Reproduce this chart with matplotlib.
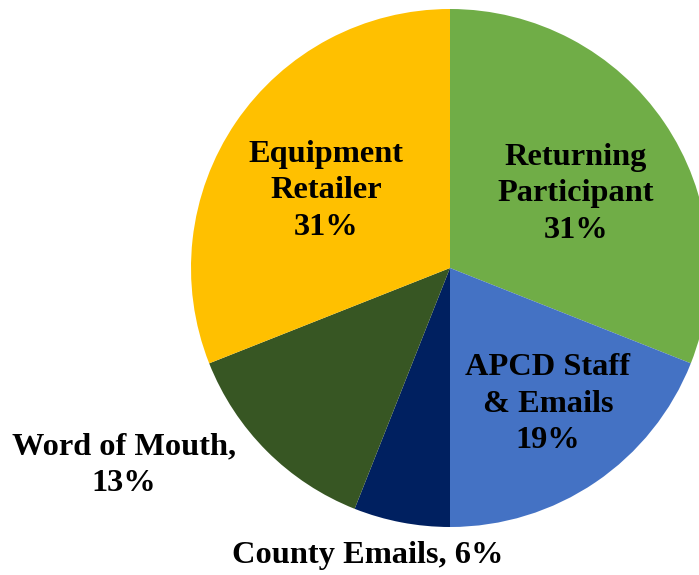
import matplotlib.pyplot as plt
import numpy as np

# Datos del gráfico
labels = ["Returning\nParticipant", "APCD Staff\n& Emails", "County Emails",
          "Word of Mouth", "Equipment\nRetailer"]
values = [31, 19, 6, 13, 31]
colors = ["#70AD47", "#4472C4", "#002060", "#375623", "#FFC000"]

plt.rcParams['font.family'] = ['Liberation Serif', 'DejaVu Serif']

fig = plt.figure(figsize=(6.99, 5.75), dpi=100)
ax = fig.add_axes([0, 0, 1, 1])

# Pixel -> coordenadas (centro 450,268; radio 259)
cx, cy, r = 450, 268, 259
ax.pie(values, colors=colors, startangle=90, counterclock=False,
       radius=1, center=(0, 0), wedgeprops=dict(linewidth=0))
ax.set_xlim((0 - cx) / r, (699 - cx) / r)
ax.set_ylim((cy - 575) / r, (cy - 0) / r)
ax.set_aspect('auto')
ax.axis('off')

# Posiciones de las etiquetas en pixeles
pos = [(576, 194), (548, 404), (368, 556), (124, 465), (326, 191)]
seps = ["\n", "\n", ", ", ",\n", "\n"]
for lab, v, (px, py), s in zip(labels, values, pos, seps):
    ax.text((px - cx) / r, (cy - py) / r, f"{lab}{s}{v}%",
            ha='center', va='center', fontsize=23.3, fontweight='bold',
            linespacing=1.32, color='black')

fig.savefig("out.png", dpi=100)
